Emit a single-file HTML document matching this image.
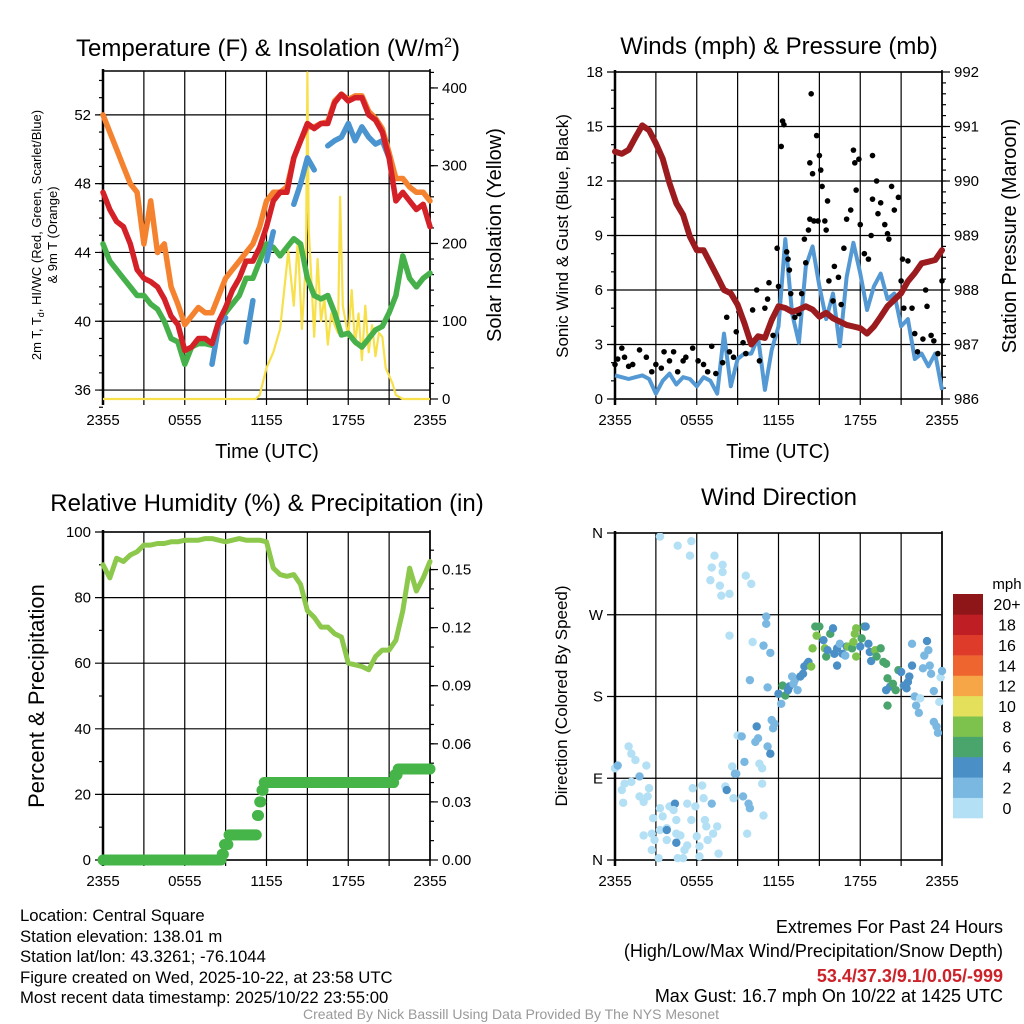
<!DOCTYPE html>
<html><head><meta charset="utf-8"><style>
html,body{margin:0;padding:0;background:#fff;}
svg{display:block;font-family:"Liberation Sans",Arial,sans-serif;}
</style></head><body>
<svg id="fig" width="1024" height="1024" viewBox="0 0 1024 1024" xmlns="http://www.w3.org/2000/svg">
<text x="268" y="56" font-size="24" text-anchor="middle">Temperature (F) &amp; Insolation (W/m<tspan dy="-9" font-size="14">2</tspan><tspan dy="9">)</tspan></text>
<text x="779" y="54" font-size="24" text-anchor="middle">Winds (mph) &amp; Pressure (mb)</text>
<text x="267" y="511" font-size="24" text-anchor="middle">Relative Humidity (%) &amp; Precipitation (in)</text>
<text x="779" y="505" font-size="24" text-anchor="middle">Wind Direction</text>
<text x="267" y="458" font-size="20" text-anchor="middle">Time (UTC)</text>
<text x="778" y="458" font-size="20" text-anchor="middle">Time (UTC)</text>
<text transform="translate(41,235) rotate(-90)" font-size="13" text-anchor="middle">2m T, T<tspan dy="3" font-size="9">d</tspan><tspan dy="-3">, HI/WC (Red, Green, Scarlet/Blue)</tspan></text>
<text transform="translate(57,235) rotate(-90)" font-size="13" text-anchor="middle">&amp; 9m T (Orange)</text>
<text transform="translate(501,235) rotate(-90)" font-size="20" text-anchor="middle">Solar Insolation (Yellow)</text>
<text transform="translate(568,236) rotate(-90)" font-size="17" text-anchor="middle">Sonic Wind &amp; Gust (Blue, Black)</text>
<text transform="translate(1016,236) rotate(-90)" font-size="20" text-anchor="middle">Station Pressure (Maroon)</text>
<text transform="translate(44,696) rotate(-90)" font-size="22" text-anchor="middle">Percent &amp; Precipitation</text>
<text transform="translate(567,696) rotate(-90)" font-size="17" text-anchor="middle">Direction (Colored By Speed)</text>
<g font-size="16.7">
<text x="20" y="921">Location: Central Square</text>
<text x="20" y="942">Station elevation: 138.01 m</text>
<text x="20" y="962">Station lat/lon: 43.3261; -76.1044</text>
<text x="20" y="983">Figure created on Wed, 2025-10-22, at 23:58 UTC</text>
<text x="20" y="1003">Most recent data timestamp: 2025/10/22 23:55:00</text>
</g>
<g font-size="18" text-anchor="end">
<text x="1003" y="933">Extremes For Past 24 Hours</text>
<text x="1003" y="957">(High/Low/Max Wind/Precipitation/Snow Depth)</text>
<text x="1003" y="982" fill="#cc2229" font-weight="bold">53.4/37.3/9.1/0.05/-999</text>
<text x="1003" y="1002">Max Gust: 16.7 mph On 10/22 at 1425 UTC</text>
</g>
<text x="511" y="1019" font-size="14" fill="#999" text-anchor="middle">Created By Nick Bassill Using Data Provided By The NYS Mesonet</text>
</svg>
<script>
// ---------- data ----------
const xTickLabels = ["2355","0555","1155","1755","2355"];
const halfHours = [];
for (let i = 0; i <= 48; i++) halfHours.push(i * 0.5);
const tempRed = [47.5,46.5,45.8,45.5,44.5,43,42.5,42.3,42,41.3,40.3,39.8,38.3,38.5,39,39,38.7,40,40.8,41.8,42.5,43.5,43.5,44.3,45.5,47,47.5,47.5,49.5,50.5,51.5,51.2,51.5,51.5,52.7,53.2,52.8,53,53,52,51.7,51,49.5,47,47.5,47,46.5,46.8,45.5];
const temp9m = [52,51,50,49,48,47.5,44.5,47,44,44.5,42,41,39.8,40.3,40.8,40.5,40.5,41.5,42.5,43,43.5,44,44.5,45.5,47,47.5,47.5,47.8,49.5,50.5,51.3,51.3,51.5,51.6,52.8,53.2,52.9,53.1,53.1,52.2,51.8,51.2,49.8,48.3,48.3,47.8,47.5,47.5,47];
const dewpoint = [44.5,43.5,43,42.5,42,41.5,41.5,41,40.7,40,39,38.8,37.5,38.5,38.7,38.7,38.6,40,40.5,41,41.5,42.5,42.5,43.5,44.5,44.3,43.8,44.3,44.8,44.5,42.5,41.5,41.3,41.5,40.5,39.2,39.3,38.8,38.5,39,39.5,39.7,40.5,41.5,43.8,42.5,42,42.5,42.8];
const heatIndex = [null,null,null,null,null,null,null,null,null,null,null,null,null,null,null,null,37.5,39.8,40.2,null,null,38.8,41.2,null,43.5,45.2,null,null,46.8,48,49.5,48.8,null,50.2,50.5,50.7,51.5,50.5,51.3,50.7,50.3,50.5,49.5,null,null,null,null,null,null];
const solarHours = [0,11.2,11.5,12,12.5,13,13.3,13.6,14,14.3,14.6,14.9,15,15.1,15.3,15.5,15.75,16,16.25,16.5,16.75,17,17.25,17.4,17.6,18,18.25,18.5,18.75,19,19.25,19.5,19.75,20,20.25,20.5,20.75,21,21.25,21.5,22,24];
const solarVals = [0,0,5,40,60,90,140,190,120,205,90,180,420,220,150,80,180,100,130,70,110,95,85,260,120,80,140,70,110,50,120,60,95,55,85,80,40,30,20,5,0,0];
const pressure = [990.54,990.5,990.57,990.8,991.02,990.93,990.69,990.41,989.96,989.59,989.38,988.98,988.73,988.73,988.49,988.25,988.0,987.94,987.73,987.39,987.0,987.15,987.12,987.45,987.7,987.67,987.6,987.64,987.7,987.64,987.51,987.58,987.48,987.42,987.36,987.33,987.3,987.2,987.33,987.51,987.7,987.82,987.94,988.16,988.31,988.49,988.52,988.55,988.73];
const sonicWind = [1.3,1.2,1.1,1.2,1.3,1.1,0.3,1.0,1.4,0.8,1.2,1.1,0.7,1.2,1.0,0.3,3.6,0.7,2.2,2.5,2.5,3.4,0.5,2.7,4.0,8.8,4.7,3.1,7.3,8.4,6.2,4.4,5.8,2.9,6.7,8.6,6.9,4.9,6.2,6.9,5.5,5.8,4.0,4.4,2.2,2.5,1.8,2.5,0.5];
const gustHours = [0,0.2,0.5,0.7,1.0,1.3,1.8,2.3,2.7,3.0,3.4,3.6,4.0,4.3,4.6,5.0,5.2,5.7,6.1,6.5,6.8,7.1,7.4,7.9,8.2,8.4,8.7,8.9,9.1,9.4,9.6,10.1,10.4,10.6,11.0,11.2,11.3,11.6,11.9,12.0,12.2,12.3,12.4,12.6,12.7,12.8,12.9,13.2,13.5,13.7,13.9,14.0,14.2,14.3,14.3,14.4,14.5,14.6,14.8,14.9,15.0,15.1,15.2,15.4,15.5,15.6,15.7,16.0,16.1,16.4,16.6,16.8,17.0,17.3,17.5,17.6,17.7,17.9,18.0,18.3,18.6,18.8,18.9,18.9,19.2,19.3,19.5,19.8,20.0,20.1,20.3,20.5,20.8,21.0,21.1,21.2,21.5,21.8,22.0,22.2,22.6,22.8,22.9,23.2,23.4,23.7,24.0];
const gustVals = [1.9,2.2,2.8,2.3,1.8,1.9,2.7,2.3,1.5,1.9,1.7,2.6,2.1,2.6,1.5,2.1,2.3,2.8,2.1,1.9,1.5,2.9,1.4,2.0,4.5,2.6,2.3,3.7,4.8,3.1,2.5,4.9,6.0,2.1,5.0,5.5,6.4,3.5,8.3,6.2,13.9,15.3,15.1,8.1,7.7,7.1,5.8,4.5,4.7,5.8,8.8,7.5,9.3,9.9,13.0,16.8,12.4,9.8,14.5,9.8,13.4,12.6,11.7,9.8,9.3,10.9,6.5,5.4,7.3,6.7,5.2,8.3,9.9,10.4,13.7,13.0,11.5,13.2,9.6,8.0,7.7,9.0,11.0,13.4,12.0,10.2,10.8,9.6,9.1,8.8,11.7,10.4,11.1,6.5,7.7,5.0,7.6,5.0,3.6,2.6,3.3,6.0,5.1,3.5,3.2,2.5,6.5];
const rhVals = [90,86,92,91,93,94,96,96,96.5,96.5,97,97,97.5,97.5,97.5,98,98,97.5,97,97.5,98,97.5,97.5,97.5,97,89,87,86.5,87,84,76,74,71,71,69,68,60,59.5,59,58,62,64,64,67,76,89,82,86,91];
const precipHours = [0,8.7,8.9,9.2,11.3,11.45,11.6,11.8,21.4,21.6,24.01];
const precipVals = [0,0.003,0.008,0.013,0.023,0.03,0.036,0.04,0.044,0.047,0.047];
const dirHours = [0,0.2,1.0,1.2,1.5,1.8,2.3,0.7,0.5,0.6,1.2,1.8,2.4,2.1,2.5,2.8,2.1,2.7,2.9,2.7,3.2,3.3,3.5,3.3,3.8,3.8,4.0,4.4,4.3,4.5,4.5,3.8,4.8,4.5,4.6,5.0,5.1,5.3,5.3,5.6,5.9,5.7,6.4,6.0,6.2,6.2,6.5,6.6,6.7,6.8,7.2,7.5,7.1,7.6,8.1,8.2,8.6,8.7,8.8,8.9,9.0,9.3,9.5,9.4,9.8,9.9,10.4,10.3,10.5,10.6,10.8,10.8,10.9,9.7,11.2,11.4,11.5,11.6,11.7,3.3,4.6,5.6,5.5,7.3,7.1,7.9,7.9,7.0,7.7,7.8,8.4,8.4,9.6,10.0,10.1,10.9,11.1,11.1,11.4,9.9,11.2,12.0,12.2,12.3,12.5,12.7,12.8,13.0,13.1,13.2,13.4,13.6,13.8,13.9,14.1,14.2,14.4,14.5,14.7,14.8,15.0,15.3,15.4,15.5,15.6,15.8,16.0,16.1,16.3,16.3,16.5,16.7,16.9,17.0,17.1,17.4,17.5,17.6,17.7,17.7,18.0,18.1,18.3,18.4,18.6,18.7,18.8,19.1,19.2,19.5,19.7,19.9,19.9,20.0,20.0,20.2,20.4,20.6,20.8,21.0,21.2,21.4,21.5,21.6,21.8,21.8,22.0,22.1,22.3,22.4,22.6,22.7,22.9,23.0,23.1,23.2,23.4,23.4,23.6,23.7,23.8,23.9,24.0];
const dirDegs = [101,104,125,117,110,92,104,84,77,63,86,70,70,64,79,46,27,29,22,11,2,57,48,33,35,22,59,62,55,44,29,33,27,19,2,2,11,16,62,44,59,79,82,26,15,4,68,44,37,22,29,37,62,7,81,77,103,68,95,95,137,136,108,70,62,57,147,130,134,106,101,84,49,29,125,117,154,145,150,356,346,351,335,335,322,325,317,308,302,291,293,247,313,304,240,236,268,260,228,198,190,183,172,192,181,187,191,202,194,198,187,202,205,213,216,218,213,233,257,247,257,242,233,224,231,249,255,227,233,214,238,227,225,235,235,233,240,249,255,224,235,244,257,257,238,229,219,231,224,233,218,216,187,200,170,191,194,187,209,207,192,189,196,202,214,238,180,170,162,178,211,225,241,231,214,205,186,152,147,140,174,201,208];
const dirSpeeds = [1,2,1,1,1,3,1,1,1,1,1,1,1,1,1,1,1,1,1,1,1,1,1,1,1,1,1,4,1,1,1,4,1,4,1,1,1,1,1,1,1,1,1,1,1,1,1,1,1,1,1,1,3,1,1,4,1,1,3,3,1,3,3,3,3,3,4,3,3,1,1,1,1,1,3,4,3,3,3,1,1,1,1,1,1,1,1,1,1,1,1,1,1,1,1,3,3,3,3,3,3,4,3,7,7,4,4,3,3,3,3,4,4,4,4,4,8,8,6,8,6,4,8,6,4,6,4,4,4,4,3,4,3,4,8,6,8,8,8,8,4,6,6,4,4,4,4,8,6,6,6,6,4,6,6,4,6,6,6,4,4,4,4,4,4,3,3,3,3,1,3,3,4,3,3,3,3,3,3,3,1,1,3];
const speedBins = ["0","2","4","6","8","10","12","14","16","18","20+"];
const speedColors = ["#b3e0f5","#7ab8e2","#4a8fc6","#4aa56c","#7dc24c","#e5e05b","#f6a646","#ef6530","#de3b2b","#bf1e24","#8e1518"];
const tempTicks = [36,40,44,48,52];
const solarTicks = [0,100,200,300,400];
const windTicks = [0,3,6,9,12,15,18];
const presTicks = [986,987,988,989,990,991,992];
const rhTicks = [0,20,40,60,80,100];
const precipTicks = [0,0.03,0.06,0.09,0.12,0.15];
const precipTickLabels = ["0.00","0.03","0.06","0.09","0.12","0.15"];
const dirTicks = [0,90,180,270,360];
const dirTickLabels = ["N","E","S","W","N"];

// ---------- helpers ----------
const NS = "http://www.w3.org/2000/svg";
const svg = document.getElementById("fig");
function mk(tag, attrs, parent) {
  const e = document.createElementNS(NS, tag);
  for (const k in attrs) e.setAttribute(k, attrs[k]);
  (parent || svg).appendChild(e);
  return e;
}
function lin(d0, d1, r0, r1) { return v => r0 + (v - d0) * (r1 - r0) / (d1 - d0); }

function panel(name, L, R, T, B, yDom, yTicks, yLabels, rDom, rTicks, rLabels, rMinor, lMinor) {
  const g = mk("g", {});
  
  
  const x = lin(0, 24, L, R);
  const y = lin(yDom[0], yDom[1], B, T);
  const yr = lin(rDom[0], rDom[1], B, T);
  const grid = mk("g", {stroke: "#000", "stroke-width": 1.2}, g);
  
  
  for (let h = 3; h < 24; h += 3) {
    const gl = mk("line", {x1: x(h), x2: x(h), y1: T, y2: B + 6}, grid);
    
    
  }
  yTicks.forEach(v => {
    const gl = mk("line", {x1: L - 8, x2: R, y1: y(v), y2: y(v)}, grid);
    
    
  });
  lMinor.forEach(v => { mk("line", {x1: L - 4, x2: L, y1: y(v), y2: y(v)}, grid); });
  rTicks.forEach(v => { mk("line", {x1: R, x2: R + 8, y1: yr(v), y2: yr(v)}, grid); });
  rMinor.forEach(v => { mk("line", {x1: R, x2: R + 4, y1: yr(v), y2: yr(v)}, grid); });
  const frame = mk("rect", {x: L, y: T, width: R - L, height: B - T, fill: "none", stroke: "#000", "stroke-width": 1.5}, g);
  
  
  mk("line", {x1: L, x2: L, y1: T - 2, y2: B + 6, stroke: "#000", "stroke-width": 2.5}, g);
  mk("line", {x1: R, x2: R, y1: T - 2, y2: B + 6, stroke: "#000", "stroke-width": 1.5}, g);
  xTickLabels.forEach((t, i) => {
    const tx = mk("text", {x: x(i * 6), y: B + 26, "font-size": 15, "text-anchor": "middle"}, g);
    tx.textContent = t;
    
    
  });
  yTicks.forEach((v, i) => {
    const tx = mk("text", {x: L - 12, y: y(v) + 5, "font-size": 15, "text-anchor": "end"}, g);
    tx.textContent = yLabels[i];
    
    
  });
  rTicks.forEach((v, i) => {
    const tx = mk("text", {x: R + 12, y: yr(v) + 5, "font-size": 15}, g);
    tx.textContent = rLabels[i];
    
    
  });
  const clip = mk("clipPath", {id: name + "-clip"}, g);
  mk("rect", {x: L - 6, y: T, width: R - L + 12, height: B - T + 6}, clip);
  const plot = mk("g", {"clip-path": "url(#" + name + "-clip)"}, g);
  
  
  return {g: plot, x, y, yr};
}
function pathOf(xs, ys, fx, fy) {
  let d = "", pen = false;
  for (let i = 0; i < xs.length; i++) {
    if (ys[i] === null || ys[i] === undefined) { pen = false; continue; }
    d += (pen ? "L" : "M") + fx(xs[i]).toFixed(1) + "," + fy(ys[i]).toFixed(1);
    pen = true;
  }
  return d;
}
function range(a, b, s) { const r = []; for (let v = a; v <= b + 1e-9; v += s) r.push(+v.toFixed(4)); return r; }

// ---------- Panel 1: temperature ----------
const p1 = panel("temperature", 103, 430, 71, 399, [35.48, 54.55], tempTicks, tempTicks.map(String),
  [0, 421.8], solarTicks, solarTicks.map(String), range(20, 420, 20), range(35, 54, 1));
const sol = mk("path", {d: pathOf(solarHours, solarVals, p1.x, p1.yr), fill: "none", stroke: "#f7e04a", "stroke-width": 2.2, "stroke-linejoin": "round"}, p1.g);


const orange = mk("path", {d: pathOf(halfHours, temp9m, p1.x, p1.y), fill: "none", stroke: "#f4822f", "stroke-width": 5.5, "stroke-linejoin": "round", "stroke-linecap": "round"}, p1.g);


const green = mk("path", {d: pathOf(halfHours, dewpoint, p1.x, p1.y), fill: "none", stroke: "#46b04a", "stroke-width": 5.5, "stroke-linejoin": "round", "stroke-linecap": "round"}, p1.g);


const blue = mk("path", {d: pathOf(halfHours, heatIndex, p1.x, p1.y), fill: "none", stroke: "#4a94cf", "stroke-width": 5.5, "stroke-linejoin": "round", "stroke-linecap": "round"}, p1.g);


const red = mk("path", {d: pathOf(halfHours, tempRed, p1.x, p1.y), fill: "none", stroke: "#d42027", "stroke-width": 5.5, "stroke-linejoin": "round", "stroke-linecap": "round"}, p1.g);



// ---------- Panel 2: winds ----------
const p2 = panel("winds", 615, 942, 72, 399, [0, 18], windTicks, windTicks.map(String),
  [986, 992], presTicks, presTicks.map(String), range(986.2, 991.8, 0.2), range(1, 17, 1));
const sw = mk("path", {d: pathOf(halfHours, sonicWind, p2.x, p2.y), fill: "none", stroke: "#5499d3", "stroke-width": 4, "stroke-linejoin": "round"}, p2.g);


gustHours.forEach((h, i) => {
  const c = mk("circle", {cx: p2.x(h), cy: p2.y(gustVals[i]), r: 2.8, fill: "#000"}, p2.g);
  
  
});
const pr = mk("path", {d: pathOf(halfHours, pressure, p2.x, p2.yr), fill: "none", stroke: "#9b1b1e", "stroke-width": 6, "stroke-linejoin": "round", "stroke-linecap": "round"}, p2.g);



// ---------- Panel 3: humidity ----------
const p3 = panel("humidity", 103, 430, 532, 860, [0, 100], rhTicks, rhTicks.map(String),
  [0, 0.1694], precipTicks, precipTickLabels, range(0.01, 0.16, 0.01), range(10, 90, 20));
const rh = mk("path", {d: pathOf(halfHours, rhVals, p3.x, p3.y), fill: "none", stroke: "#8cc84b", "stroke-width": 5, "stroke-linejoin": "round", "stroke-linecap": "round"}, p3.g);


function precipAt(h) {
  let v = precipVals[0];
  for (let i = 0; i < precipHours.length; i++) if (h >= precipHours[i]) v = precipVals[i];
  return v;
}
for (let m = 0; m <= 288; m++) {
  const h = m / 12;
  const c = mk("circle", {cx: p3.x(h), cy: p3.yr(precipAt(h)), r: 5.5, fill: "#46b549"}, p3.g);
  
  
}

// ---------- Panel 4: wind direction ----------
const p4 = panel("direction", 615, 942, 533, 860, [0, 360], dirTicks, dirTickLabels,
  [0, 360], [], [], [], []);
function speedColor(s) { return speedColors[Math.min(10, Math.floor(s / 2))]; }
dirHours.forEach((h, i) => {
  const c = mk("circle", {cx: p4.x(h), cy: p4.y(dirDegs[i]), r: 4.2, fill: speedColor(dirSpeeds[i])}, p4.g);
  
  
});
// colorbar
const cb = mk("g", {});


const cbTop = 594, cbBot = 818, nb = speedColors.length, bh = (cbBot - cbTop) / nb;
speedColors.forEach((col, i) => {
  const r = mk("rect", {x: 953, y: cbBot - (i + 1) * bh, width: 30, height: bh + 0.3, fill: col}, cb);
  
  
  const t = mk("text", {x: 1007, y: cbBot - (i + 0.5) * bh + 6, "font-size": 16, "text-anchor": "middle"}, cb);
  t.textContent = speedBins[i];
  
  
});
const mph = mk("text", {x: 1007, y: 589, "font-size": 15, "text-anchor": "middle"}, cb);
mph.textContent = "mph";


</script>
</body></html>
